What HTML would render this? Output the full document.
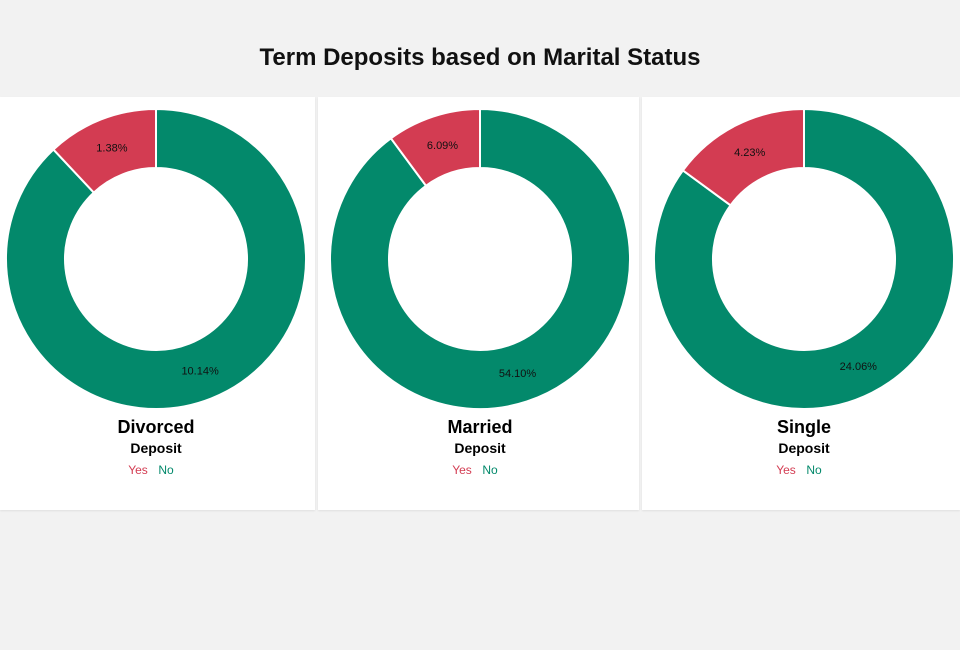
<!DOCTYPE html>
<html><head><meta charset="utf-8">
<style>
body{margin:0;width:960px;height:650px;background:#f2f2f2;font-family:"Liberation Sans",sans-serif;overflow:hidden;position:relative}
#title{position:absolute;top:44px;left:0;width:960px;text-align:center;font-size:24px;font-weight:bold;color:#111}
.panel{position:absolute;top:97px;height:413px;background:#fff;box-shadow:0 1px 2px rgba(0,0,0,0.08)}
</style></head><body>
<div id="title">Term Deposits based on Marital Status</div>
<div class="panel" style="left:0;width:315px"></div>
<div class="panel" style="left:318px;width:321px"></div>
<div class="panel" style="left:642px;width:318px"></div>
<svg id="svg" width="960" height="650" style="position:absolute;left:0;top:0"></svg>
<script>
const categories=["Divorced","Married","Single"];
const yesValues=[1.38,6.09,4.23];
const noValues=[10.14,54.10,24.06];
const seriesNames=["Yes","No"];
const NS="http://www.w3.org/2000/svg";
const svg=document.getElementById('svg');
const centersX=[156,480,804], cy=259, R=150, r=91, LR=120;
const colors={Yes:"#d33c52",No:"#03896b"};
function pt(a,rad,cx){return [cx+rad*Math.sin(a),cy-rad*Math.cos(a)];}
function arc(cx,a0,a1){
  const large=(a1-a0)>Math.PI?1:0;
  const p0=pt(a0,R,cx),p1=pt(a1,R,cx),q1=pt(a1,r,cx),q0=pt(a0,r,cx);
  return `M${p0[0]},${p0[1]}A${R},${R} 0 ${large} 1 ${p1[0]},${p1[1]}L${q1[0]},${q1[1]}A${r},${r} 0 ${large} 0 ${q0[0]},${q0[1]}Z`;
}
function txt(x,y,s,size,fill,weight,name){
  const t=document.createElementNS(NS,'text');
  t.setAttribute('x',x);t.setAttribute('y',y);t.setAttribute('text-anchor','middle');
  t.setAttribute('font-size',size);t.setAttribute('fill',fill);
  if(weight)t.setAttribute('font-weight',weight);
  
  
  t.textContent=s;svg.appendChild(t);return t;
}
categories.forEach((c,i)=>{
  const cx=centersX[i];
  const total=yesValues[i]+noValues[i];
  const yesA=yesValues[i]/total*2*Math.PI;
  // No slice: from 0 clockwise to 2π - yesA
  const slices=[
    {k:"No",a0:0,a1:2*Math.PI-yesA,v:noValues[i]},
    {k:"Yes",a0:2*Math.PI-yesA,a1:2*Math.PI,v:yesValues[i]}
  ];
  slices.forEach(s=>{
    const p=document.createElementNS(NS,'path');
    p.setAttribute('d',arc(cx,s.a0,s.a1));
    p.setAttribute('fill',colors[s.k]);
    p.setAttribute('stroke','#fff');p.setAttribute('stroke-width','2');
    
    
    svg.appendChild(p);
  });
  slices.forEach(s=>{
    const m=(s.a0+s.a1)/2;const q=pt(m,LR,cx);
    txt(q[0],q[1]+4,s.v.toFixed(2)+'%',11,'#111',null,'label-'+c.toLowerCase()+'-'+s.k.toLowerCase());
  });
  txt(cx,433,c,18,'#000','bold','panel-title-'+c.toLowerCase());
  txt(cx,453,'Deposit',14,'#000','bold','legend-title-'+c.toLowerCase());
  txt(cx-18,474,'Yes',12,colors.Yes,null,'legend-yes-'+c.toLowerCase());
  txt(cx+10,474,'No',12,colors.No,null,'legend-no-'+c.toLowerCase());
});
</script>
</body></html>
